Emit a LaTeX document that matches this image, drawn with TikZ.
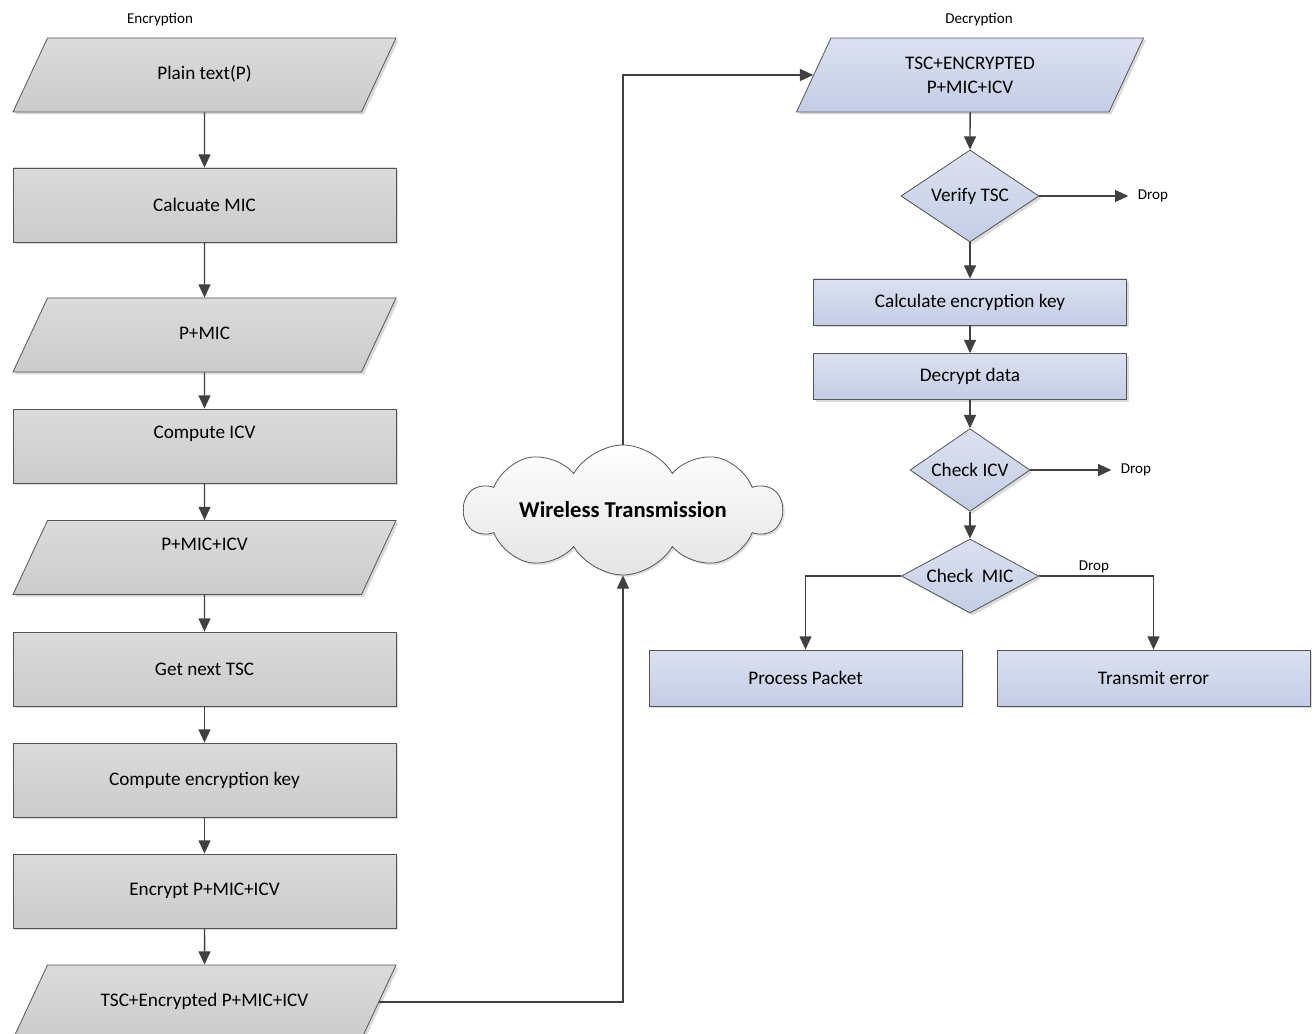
\documentclass[tikz,border=0pt]{standalone}
\usepackage{fontspec}
\setmainfont{Carlito}
\usetikzlibrary{shapes.geometric,shapes.symbols,arrows.meta,shadows}
\definecolor{edgegray}{RGB}{64,64,64}
\definecolor{linegray}{RGB}{85,85,85}
\definecolor{graytop}{RGB}{219,219,219}
\definecolor{graybot}{RGB}{203,203,203}
\definecolor{bluetop}{RGB}{219,225,240}
\definecolor{bluebot}{RGB}{196,205,230}
\definecolor{cloudbot}{RGB}{228,228,228}

\begin{document}
\begin{tikzpicture}[x=0.75pt,y=-0.75pt,
	base/.style={draw=linegray,line width=0.6pt,font=\fontsize{14.4}{18}\selectfont,inner sep=0pt,drop shadow={shadow xshift=1.8pt,shadow yshift=-1.8pt,fill=black,opacity=0.15}},
	grey/.style={base,top color=graytop,bottom color=graybot},
	blue/.style={base,top color=bluetop,bottom color=bluebot},
	proc/.style={rectangle,minimum width=287.25pt,minimum height=55.5pt},
	data/.style={trapezium,trapezium left angle=65,trapezium right angle=115,trapezium stretches body=true,minimum width=287.25pt,text height=10pt,text depth=3pt,inner ysep=21.25pt},
	dec/.style={diamond,aspect=2,blue},
	lowtext/.style={text height=10pt,text depth=21pt,inner ysep=12.25pt},
	tag/.style={font=\fontsize{11.3}{13}\selectfont,inner sep=7pt},
	arr/.style={draw=edgegray,line width=1.1pt,-{Triangle[length=10pt,width=9pt]}}]
		\useasboundingbox (0,0) rectangle (1314,1034);
		\clip (0,0) rectangle (1314,1034);
		\node [tag,inner sep=0pt] (v0) at (160,20) {Encryption};
		\node [grey,data] (v1) at (204.5,75) {Plain text(P)};
		\node [grey,proc] (v2) at (204.5,205) {Calcuate MIC};
		\node [grey,data] (v3) at (204.5,335) {P+MIC};
		\node [grey,proc,lowtext] (v4) at (204.5,446) {Compute ICV};
		\node [grey,data,lowtext] (v5) at (204.5,557.5) {P+MIC+ICV};
		\node [grey,proc] (v6) at (204.5,669) {Get next TSC};
		\node [grey,proc] (v7) at (204.5,780) {Compute encryption key};
		\node [grey,proc] (v8) at (204.5,891) {Encrypt P+MIC+ICV};
		\node [grey,data] (v9) at (204.5,1002) {TSC+Encrypted P+MIC+ICV};
		\node [cloud,cloud puffs=10,cloud puff arc=120,cloud ignores aspect,minimum width=238pt,minimum height=97.5pt,inner sep=0pt,draw=linegray,line width=0.6pt,top color=white,bottom color=cloudbot,drop shadow={shadow xshift=1.5pt,shadow yshift=-1.5pt,fill=black,opacity=0.12},label={[font=\bfseries\fontsize{17}{20}\selectfont]center:Wireless Transmission}] (v10) at (623,510) {};
		\node [tag,inner sep=0pt] (v11) at (979,20) {Decryption};
		\node [blue,trapezium,trapezium left angle=65,trapezium right angle=115,trapezium stretches body=true,minimum width=260.25pt,inner ysep=14pt,align=center] (v12) at (970,75) {TSC+ENCRYPTED\\P+MIC+ICV};
		\node [dec,minimum width=103.5pt,minimum height=69pt] (v13) at (970,196) {Verify TSC};
		\node [blue,proc,minimum width=234.75pt,minimum height=34.5pt] (v14) at (970,302) {Calculate encryption key};
		\node [blue,proc,minimum width=234.75pt,minimum height=34.5pt] (v15) at (970,376.5) {Decrypt data};
		\node [dec,minimum width=90pt,minimum height=62pt] (v16) at (970,470) {Check ICV};
		\node [dec,minimum width=103pt,minimum height=55.5pt] (v17) at (970,576) {Check\ \ MIC};
		\node [blue,proc,minimum width=234.75pt,minimum height=42pt] (v18) at (805.5,678) {Process Packet};
		\node [blue,proc,minimum width=234.75pt,minimum height=42pt] (v19) at (1153.5,678) {Transmit error};
		\node [tag] (v20) at (1153,196) {Drop};
		\node [tag] (v21) at (1136,470) {Drop};
		\draw [arr] (v1) -- (v2);
		\draw [arr] (v2) -- (v3);
		\draw [arr] (v3) -- (v4);
		\draw [arr] (v4) -- (v5);
		\draw [arr] (v5) -- (v6);
		\draw [arr] (v6) -- (v7);
		\draw [arr] (v7) -- (v8);
		\draw [arr] (v8) -- (v9);
		\draw [arr] (v9) -| (v10);
		\draw [arr] (v10) |- (v12);
		\draw [arr] (v12) -- (v13);
		\draw [arr] (v13) -- (v14);
		\draw [arr] (v14) -- (v15);
		\draw [arr] (v15) -- (v16);
		\draw [arr] (v16) -- (v17);
		\draw [arr] (v13) -- (v20);
		\draw [arr] (v16) -- (v21);
		\draw [arr] (v17) -| (v18);
		\draw [arr] (v17) -| node [tag,pos=0.24,above,inner sep=1.5pt] (v22) {Drop} (v19);
\end{tikzpicture}
\end{document}
